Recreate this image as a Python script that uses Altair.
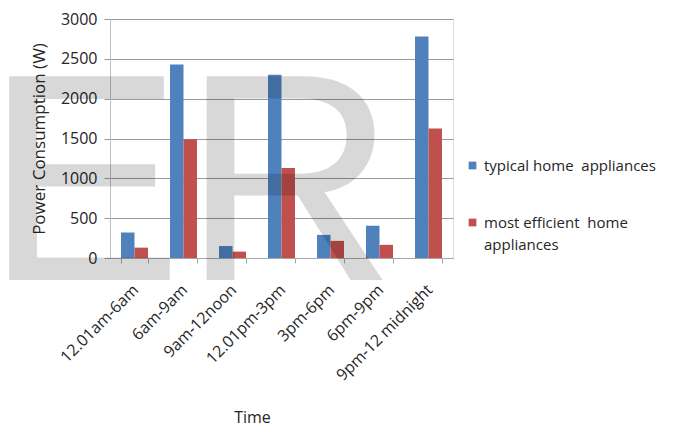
import altair as alt
import pandas as pd

categories = ["12.01am-6am", "6am-9am", "9am-12noon", "12.01pm-3pm",
              "3pm-6pm", "6pm-9pm", "9pm-12 midnight"]
series_names = ["typical home\u00a0 appliances", "most efficient\u00a0 home appliances"]
typical = [320, 2430, 150, 2300, 290, 405, 2780]
efficient = [130, 1490, 80, 1130, 215, 165, 1625]
y_ticks = [0, 500, 1000, 1500, 2000, 2500, 3000]
watermark = ["ER"]

rows = []
for c, t, e in zip(categories, typical, efficient):
    rows.append({"Time": c, "series": series_names[0], "value": t})
    rows.append({"Time": c, "series": series_names[1], "value": e})
df = pd.DataFrame(rows)

FONT = "Open Sans"
TXT = "#262626"

bars = alt.Chart(df).mark_bar().encode(
    x=alt.X("Time:N", sort=categories,
            scale=alt.Scale(paddingInner=0.45, paddingOuter=0.225),
            axis=alt.Axis(title="Time", labelAngle=-45, labelAlign="right",
                          labelBaseline="middle", labelPadding=24, labelOffset=1,
                          tickBand="extent", tickSize=5, tickColor="#a6a6a6",
                          domainColor="#a6a6a6", labelFontSize=16, labelFont=FONT,
                          labelColor=TXT, titleFont=FONT, titleFontSize=16,
                          titleFontWeight="normal", titleColor=TXT,
                          titleX=142, titleY=159, titleBaseline="middle")),
    xOffset=alt.XOffset("series:N", sort=series_names,
                        scale=alt.Scale(paddingInner=0, paddingOuter=0)),
    y=alt.Y("value:Q", scale=alt.Scale(domain=[0, 3000], nice=False),
            axis=alt.Axis(title="Power Consumption (W)", values=y_ticks, format="d",
                          grid=True, gridColor="#9a9a9a", tickSize=6,
                          tickColor="#9a9a9a", domainColor="#bfbfbf",
                          labelFontSize=16, labelFont=FONT, labelColor=TXT,
                          labelPadding=7, titleFont=FONT, titleFontSize=17,
                          titleFontWeight="normal", titleColor=TXT,
                          titlePadding=12)),
    color=alt.Color("series:N", sort=series_names,
                    scale=alt.Scale(domain=series_names, range=["#4F81BD", "#C0504D"]),
                    legend=alt.Legend(title=None, orient="none", legendX=355,
                                      legendY=139, symbolType="square",
                                      symbolSize=60, symbolStrokeWidth=0,
                                      labelFont=FONT, labelFontSize=15,
                                      labelColor=TXT, rowPadding=41,
                                      labelLimit=300, labelOffset=4,
                                      labelExpr="indexof(datum.label, 'most') == 0 ? ['most efficient\u00a0 home', 'appliances'] : datum.label")),
)

wm = alt.Chart(pd.DataFrame({"wm": watermark})).mark_text(
    font="Liberation Sans", fontSize=296, align="left", baseline="alphabetic",
    color="black", opacity=0.15,
).encode(text="wm:N", x=alt.value(-125), y=alt.value(261))

chart = alt.layer(bars, wm).properties(
    width=343, height=239,
    autosize=alt.AutoSizeParams(type="none"),
    padding={"left": 102, "top": 11, "right": 215, "bottom": 170},
).configure_view(stroke=None).configure(
    style={"guide-label": {"lineHeight": 22}}
)

chart.save("out.html", embed_options={"renderer": "svg", "actions": False})
